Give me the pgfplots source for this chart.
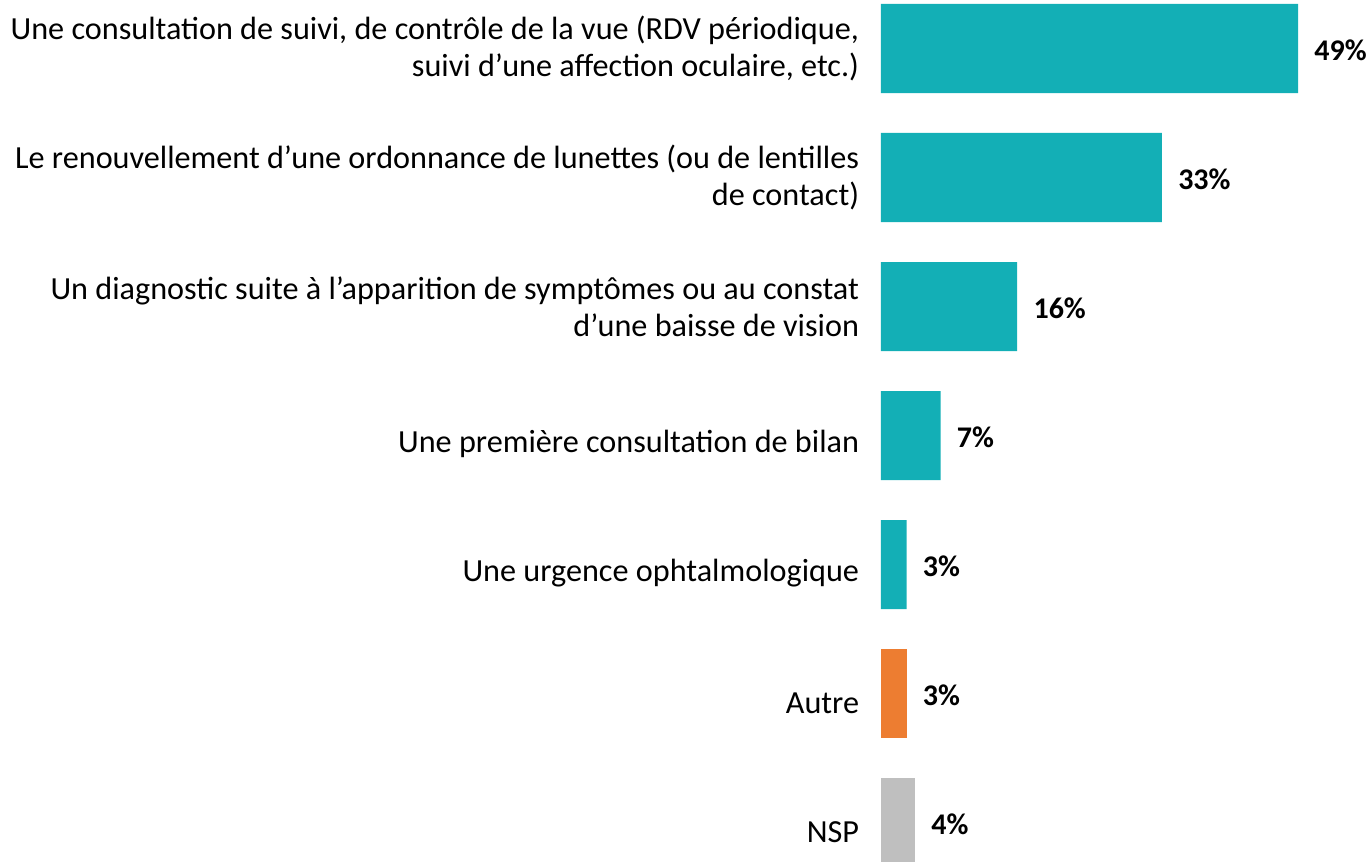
\documentclass[border=0pt]{standalone}
\usepackage{fontspec}
\setmainfont{Carlito}
\usepackage{pgfplots}
\pgfplotsset{compat=1.18}

\definecolor{tealbar}{HTML}{13AFB6}
\definecolor{orangebar}{HTML}{ED7D31}
\definecolor{greybar}{HTML}{BFBFBF}

\newcommand{\lowstrut}{\rule{0pt}{20pt}}

\begin{document}
\begin{tikzpicture}
\begin{axis}[
  scale only axis,
  width=243pt,height=431pt,
  xbar,bar width=0.69,
  xmin=0,xmax=57.1,
  ymin=-0.376,ymax=6.306,y dir=reverse,
  axis line style={draw=none},tick style={draw=none},
  xtick=\empty,
  ytick={0,...,6},
  yticklabels={
    {Une consultation de suivi, de contrôle de la vue (RDV périodique,\\suivi d’une affection oculaire, etc.)},
    {Le renouvellement d’une ordonnance de lunettes (ou de lentilles\\de contact)},
    {Un diagnostic suite à l’apparition de symptômes ou au constat\\d’une baisse de vision},
    {\lowstrut Une première consultation de bilan},
    {\lowstrut Une urgence ophtalmologique},
    {\lowstrut Autre},
    {\lowstrut NSP}},
  yticklabel style={align=right,inner sep=0pt,xshift=-6.5pt,
    font=\fontsize{16.1}{18.5}\selectfont},
  /pgf/number format/assume math mode=true,
  nodes near coords={\pgfmathprintnumber{\pgfplotspointmeta}\%},
  nodes near coords style={anchor=west,inner sep=0pt,xshift=8pt,yshift=-1pt,
    font=\fontsize{15}{17}\selectfont\bfseries},
  every axis plot/.append style={bar shift=0pt,draw=none},
]
\addplot[fill=tealbar] coordinates {(49,0) (33,1) (16,2) (7,3) (3,4)};
\addplot[fill=orangebar] coordinates {(3,5)};
\addplot[fill=greybar] coordinates {(4,6)};
\end{axis}
\pgfresetboundingbox
\path[use as bounding box] ([xshift=-440.5pt]current axis.south west) rectangle (current axis.north east);
\end{tikzpicture}
\end{document}
